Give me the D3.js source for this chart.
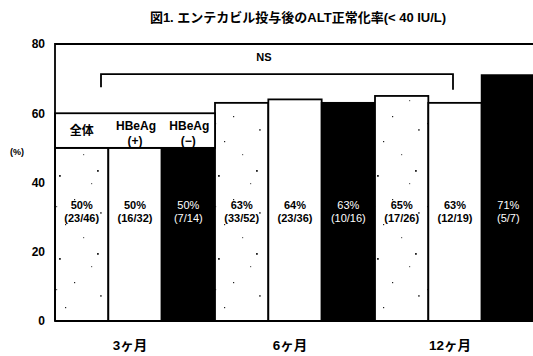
<!DOCTYPE html>
<html>
<head>
<meta charset="utf-8">
<script src="https://cdn.jsdelivr.net/npm/d3@7"></script>
<style>
  html, body { margin: 0; padding: 0; background: #fff; }
  svg { display: block; }
  text { font-family: "Liberation Sans", Arial, "Noto Sans CJK JP", sans-serif; }
</style>
</head>
<body>
<svg id="chart" width="533" height="356"></svg>
<script>
// Follow-up periods and patient groups
const periods = ["3ヶ月", "6ヶ月", "12ヶ月"];
const groups = ["全体", "HBeAg (+)", "HBeAg (−)"];

// ALT normalisation rate (%) per period, one array per group
const rateAll = [50, 63, 65];
const ratePos = [50, 64, 63];
const rateNeg = [50, 63, 71];

// Responders / patients per period
const countAll = ["23/46", "33/52", "17/26"];
const countPos = ["16/32", "23/36", "12/19"];
const countNeg = ["7/14", "10/16", "5/7"];

const yTicks = [0, 20, 40, 60, 80];

const rates = [rateAll, ratePos, rateNeg];
const counts = [countAll, countPos, countNeg];

const bars = [];
periods.forEach((p, pi) => {
  groups.forEach((g, gi) => {
    bars.push({ id: p + "|" + g, period: p, group: gi, value: rates[gi][pi], count: counts[gi][pi] });
  });
});

const svg = d3.select("#chart");
const plotLeft = 55, plotRight = 535, plotTop = 44, plotBottom = 321;

const x = d3.scaleBand().domain(bars.map(d => d.id)).range([plotLeft, plotRight]).padding(0);
const xPeriod = d3.scaleBand().domain(periods).range([plotLeft, plotRight]).padding(0);
const y = d3.scaleLinear().domain([0, 80]).range([plotBottom, plotTop]);

// Sparse stippled fill for the "全体" bars
const defs = svg.append("defs");
const pat = defs.append("pattern")
  .attr("id", "stipple").attr("patternUnits", "userSpaceOnUse")
  .attr("width", 53).attr("height", 83);
pat.append("rect").attr("width", 53).attr("height", 83).attr("fill", "#fff");
const dots = [[6, 9], [38, 17], [21, 33], [47, 46], [12, 58], [30, 71], [44, 4], [3, 40]];
dots.forEach(([cx, cy], i) => {
  pat.append("rect").attr("x", cx).attr("y", cy)
    .attr("width", i % 3 === 0 ? 1.8 : 1.2).attr("height", i % 3 === 0 ? 1.8 : 1.2)
    .attr("fill", i % 2 ? "#666" : "#222");
});

const fills = ["url(#stipple)", "#fff", "#000"];

// Bars
svg.append("g").selectAll("rect").data(bars).join("rect")
  .attr("x", d => x(d.id))
  .attr("y", d => y(d.value))
  .attr("width", x.bandwidth())
  .attr("height", d => y(0) - y(d.value))
  .attr("fill", d => fills[d.group])
  .attr("stroke", "#000")
  .attr("stroke-width", 1.8);

// Group header box above the 3ヶ月 bars
const headerX0 = x(periods[0] + "|" + groups[0]);
const headerX1 = x(periods[0] + "|" + groups[2]) + x.bandwidth();
svg.append("rect")
  .attr("x", headerX0).attr("y", y(60))
  .attr("width", headerX1 - headerX0).attr("height", y(50) - y(60))
  .attr("fill", "#fff").attr("stroke", "#000").attr("stroke-width", 1.8);

const headerLines = [["全体"], ["HBeAg", "(+)"], ["HBeAg", "(−)"]];
headerLines.forEach((lines, gi) => {
  const cx = x(periods[0] + "|" + groups[gi]) + x.bandwidth() / 2;
  const t = svg.append("text")
    .attr("text-anchor", "middle")
    .attr("font-size", 12).attr("font-weight", "bold").attr("fill", "#000");
  if (lines.length === 1) {
    t.append("tspan").attr("x", cx).attr("y", y(55) + 4).text(lines[0]);
  } else {
    t.append("tspan").attr("x", cx + 1).attr("y", y(55) - 1).text(lines[0]);
    t.append("tspan").attr("x", cx).attr("y", y(55) + 14).text(lines[1]);
  }
});

// Value labels inside the bars
const labels = svg.append("g").selectAll("text").data(bars).join("text")
  .attr("text-anchor", "middle")
  .attr("font-size", 11)
  .attr("font-weight", d => d.group === 2 ? "normal" : "bold")
  .attr("fill", d => d.group === 2 ? "#fff" : "#000");
labels.append("tspan")
  .attr("x", d => x(d.id) + x.bandwidth() / 2)
  .attr("y", 209)
  .text(d => d.value + "%");
labels.append("tspan")
  .attr("x", d => x(d.id) + x.bandwidth() / 2)
  .attr("y", 222)
  .text(d => "(" + d.count + ")");

// Frame: left axis, top border, baseline
svg.append("path")
  .attr("d", `M${plotLeft},${plotBottom} V${plotTop} H533 M${plotLeft},${plotBottom} H533`)
  .attr("fill", "none").attr("stroke", "#000").attr("stroke-width", 1.8);

// Y axis labels
const yAxis = svg.append("g").attr("transform", `translate(${plotLeft},0)`)
  .call(d3.axisLeft(y).tickValues(yTicks).tickSize(0).tickPadding(10));
yAxis.select(".domain").remove();
yAxis.selectAll("text")
  .attr("font-size", 12).attr("font-weight", "bold").attr("fill", "#000")
  .style("font-family", "'Liberation Sans', Arial, sans-serif");

svg.append("text")
  .attr("x", 17).attr("y", 155)
  .attr("text-anchor", "middle")
  .attr("font-size", 9).attr("font-weight", "bold")
  .text("(%)");

// X axis period labels
svg.append("g").selectAll("text").data(periods).join("text")
  .attr("x", d => xPeriod(d) + xPeriod.bandwidth() / 2 - 5)
  .attr("y", 350)
  .attr("text-anchor", "middle")
  .attr("font-size", 13.5).attr("font-weight", "bold")
  .text(d => d);

// NS bracket across the periods
const bracketY = y(71.3);
const bx0 = 101, bx1 = 453;
svg.append("path")
  .attr("d", `M${bx0},${y(67.5)} V${bracketY} H${bx1} V${y(66.8)}`)
  .attr("fill", "none").attr("stroke", "#000").attr("stroke-width", 1.8);
svg.append("text")
  .attr("x", (bx0 + bx1) / 2 - 13).attr("y", 61)
  .attr("text-anchor", "middle")
  .attr("font-size", 11).attr("font-weight", "bold")
  .text("NS");

// Title
svg.append("text")
  .attr("x", 298).attr("y", 22)
  .attr("text-anchor", "middle")
  .attr("font-size", 13).attr("font-weight", "bold")
  .style("font-family", "'Liberation Sans', 'Noto Sans CJK JP', sans-serif")
  .text("図1. エンテカビル投与後のALT正常化率(< 40 IU/L)");
</script>
</body>
</html>
